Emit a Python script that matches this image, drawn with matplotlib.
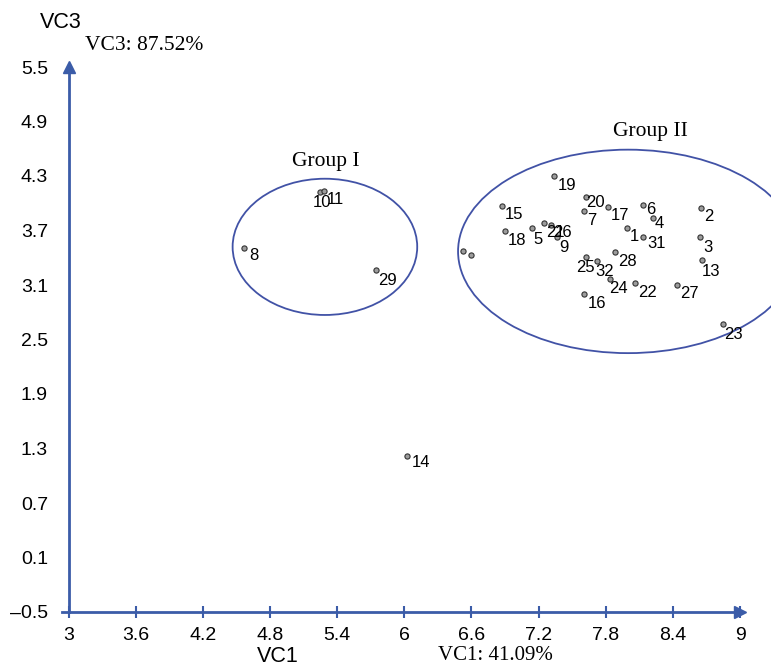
import matplotlib
matplotlib.use("Agg")
import matplotlib.pyplot as plt
from matplotlib.patches import Ellipse

# sample labels and their scores on VC1 / VC3
labels = ['1', '2', '3', '4', '5', '6', '7', '8', '9', '10', '11', '13', '14',
          '15', '16', '17', '18', '19', '20', '21', '22', '23', '24', '25',
          '26', '27', '28', '29', '31', '32', '', '']
vc1 = [7.99, 8.65, 8.64, 8.22, 7.14, 8.13, 7.61, 4.57, 7.36, 5.25, 5.28, 8.66, 6.02,
       6.87, 7.61, 7.82, 6.90, 7.34, 7.62, 7.25, 8.06, 8.85, 7.84, 7.62,
       7.31, 8.44, 7.88, 5.75, 8.13, 7.72, 6.52, 6.60]
vc3 = [3.73, 3.95, 3.63, 3.84, 3.73, 3.98, 3.91, 3.51, 3.63, 4.12, 4.14, 3.37, 1.22,
       3.97, 3.00, 3.96, 3.69, 4.30, 4.07, 3.78, 3.12, 2.67, 3.17, 3.41,
       3.76, 3.10, 3.46, 3.27, 3.63, 3.36, 3.47, 3.43]

xticks = [3, 3.6, 4.2, 4.8, 5.4, 6, 6.6, 7.2, 7.8, 8.4, 9]
yticks = [-0.5, 0.1, 0.7, 1.3, 1.9, 2.5, 3.1, 3.7, 4.3, 4.9, 5.5]

# groups: name, centre, width, height, label position
groups = [('Group I', 5.29, 3.52, 1.65, 1.50, 5.30, 4.46),
          ('Group II', 8.00, 3.47, 3.04, 2.24, 8.20, 4.79)]

axis_col = '#3b5ca8'
ell_col = '#4152a6'
sans = 'Liberation Sans'
serif = 'Liberation Serif'

# label offsets in pixels (right, down); default is (3, 9)
offsets = {'10': (-8, 10), '25': (-9, 11), '32': (-1, 10), '24': (-1, 10),
           '20': (1, 6), '6': (3, 4), '4': (2, 6), '13': (0, 11), '5': (1, 12),
           '9': (3, 11), '21': (2, 9), '26': (2, 7), '31': (5, 7), '8': (5, 8),
           '14': (5, 7), '3': (4, 11), '29': (2, 11), '23': (1, 10)}

fig = plt.figure(figsize=(7.71, 6.69), dpi=100)
ax = fig.add_axes([62 / 771, 1 - 612 / 669, (740 - 62) / 771, (612 - 67) / 669])
ax.set_xlim(2.94, 9)
ax.set_ylim(-0.5, 5.5)

for s in ['top', 'right']:
    ax.spines[s].set_visible(False)
ax.spines['left'].set_position(('data', 3))
for s in ['left', 'bottom']:
    ax.spines[s].set_color(axis_col)
    ax.spines[s].set_linewidth(2)

ax.set_xticks(xticks)
ax.set_xticklabels([f'{t:g}' for t in xticks])
ax.set_yticks(yticks)
ax.set_yticklabels([f'{t:g}'.replace('-', '\u2013') for t in yticks])
ax.tick_params(axis='x', direction='inout', length=9, width=1.5, color=axis_col,
               labelsize=14, pad=6)
ax.tick_params(axis='y', length=0, labelsize=14, pad=15)
for lab in ax.get_xticklabels() + ax.get_yticklabels():
    lab.set_family(sans)

# arrow heads
ax.plot(9, -0.5, marker='>', ms=8, color=axis_col, clip_on=False)
ax.plot(3, 5.5, marker='^', ms=8, color=axis_col, clip_on=False)

for name, cx, cy, w, h, tx, ty in groups:
    ax.add_patch(Ellipse((cx, cy), w, h, fill=False, ec=ell_col, lw=1.3,
                         clip_on=False))
    ax.text(tx, ty, name, family=serif, fontsize=15.5, ha='center', va='center')

ax.scatter(vc1, vc3, s=14, c='#9c9c9c', edgecolors='#333333', linewidths=0.8,
           zorder=3, clip_on=False)
for lab, x, y in zip(labels, vc1, vc3):
    if not lab:
        continue
    dx, dy = offsets.get(lab, (3, 9))
    ax.annotate(lab, (x, y), xytext=(dx * 0.72, -dy * 0.72), textcoords='offset points',
                ha='left', va='center', fontsize=12, family=sans)

fig.text(61 / 771, 1 - 23 / 669, 'VC3', family=sans, fontsize=15.5, ha='center', va='center')
fig.text(144 / 771, 1 - 46 / 669, 'VC3: 87.52%', family=serif, fontsize=15.5,
         ha='center', va='center')
fig.text(278 / 771, 1 - 657 / 669, 'VC1', family=sans, fontsize=15.5, ha='center', va='center')
fig.text(495 / 771, 1 - 655 / 669, 'VC1: 41.09%', family=serif, fontsize=15,
         ha='center', va='center')

fig.savefig('out.png', dpi=100)
